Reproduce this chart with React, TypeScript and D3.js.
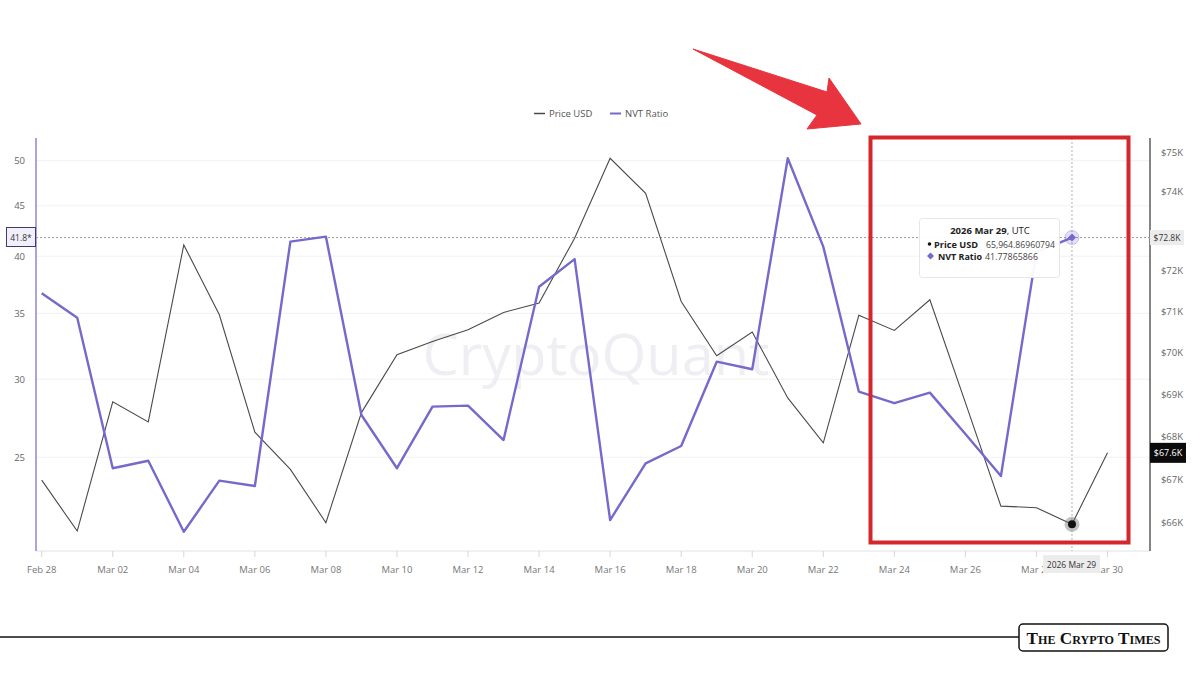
import React from "react";
import * as d3 from "d3";

const dates: string[] = [
  "2026-02-28", "2026-03-01", "2026-03-02", "2026-03-03", "2026-03-04", "2026-03-05", "2026-03-06",
  "2026-03-07", "2026-03-08", "2026-03-09", "2026-03-10", "2026-03-11", "2026-03-12", "2026-03-13",
  "2026-03-14", "2026-03-15", "2026-03-16", "2026-03-17", "2026-03-18", "2026-03-19", "2026-03-20",
  "2026-03-21", "2026-03-22", "2026-03-23", "2026-03-24", "2026-03-25", "2026-03-26", "2026-03-27",
  "2026-03-28", "2026-03-29", "2026-03-30",
];

const priceUsd: number[] = [
  66977, 65809, 68813, 68339, 72649, 70916, 68095, 67225, 66000, 68559, 69945, 70266, 70550, 70973,
  71204, 72818, 74855, 73957, 71243, 69920, 70495, 68908, 67846, 70904, 70534, 71284, 68796, 66379,
  66342, 65964.86960794, 67612,
];

const nvtRatio: number[] = [
  36.68, 34.64, 24.37, 24.8, 21.01, 23.67, 23.38, 41.38, 41.87, 27.6, 24.37, 28.14, 28.21, 26.03,
  37.24, 39.73, 21.59, 24.65, 25.67, 31.26, 30.71, 50.29, 40.9, 29.15, 28.37, 29.08, 26.4, 23.93,
  40.39, 41.77865866,
];

const nvtTicks: number[] = [25, 30, 35, 40, 45, 50];
const priceTicks: number[] = [66000, 67000, 68000, 69000, 70000, 71000, 72000, 73000, 74000, 75000];
const xTickDates: string[] = [
  "2026-02-28", "2026-03-02", "2026-03-04", "2026-03-06", "2026-03-08", "2026-03-10", "2026-03-12",
  "2026-03-14", "2026-03-16", "2026-03-18", "2026-03-20", "2026-03-22", "2026-03-24", "2026-03-26",
  "2026-03-28", "2026-03-30",
];
const hoverDate = "2026-03-29";
const lastPriceLabel = "$67.6K";
const legendItems: string[] = ["Price USD", "NVT Ratio"];

const FONT = "'Open Sans', 'Noto Sans', sans-serif";
const PURPLE = "#7569cc";
const DARK = "#4a4a4a";

export default function App() {
  const W = 1200;
  const H = 675;
  const top = 138;
  const bottom = 551;
  const leftAxisX = 36;
  const rightAxisX = 1150;

  const parse = (s: string) => new Date(s + "T00:00:00Z");
  const x = d3.scaleUtc().domain([parse("2026-02-28"), parse("2026-03-30")]).range([41.7, 1107.5]);
  const yN = d3.scaleLog().domain([20.13, 52.48]).range([550, 140]);
  const yP = d3.scaleLog().domain([65380, 75330]).range([550, 140]);

  const priceLine = d3
    .line<number>()
    .x((_, i) => x(parse(dates[i])))
    .y((d) => yP(d));
  const nvtLine = d3
    .line<number>()
    .x((_, i) => x(parse(dates[i])))
    .y((d) => yN(d));

  const fmtX = d3.utcFormat("%b %d");
  const hx = x(parse(hoverDate));
  const hi = dates.indexOf(hoverDate);
  const hNvt = nvtRatio[hi];
  const hPrice = priceUsd[hi];
  const hy = yN(hNvt);
  const hPy = yP(hPrice);
  const crossPriceLabel = "$" + (yP.invert(hy) / 1000).toFixed(1) + "K";
  const lastY = yP(priceUsd[priceUsd.length - 1]);

  return (
    <svg
      width={W}
      height={H}
      viewBox={`0 0 ${W} ${H}`}
      style={{ position: "absolute", left: 0, top: 0, background: "#fff" }}
    >
      <rect x={0} y={0} width={W} height={H} fill="#fff" />

      {/* red arrow */}
      <polygon
        points="693,49 827,92 829,78 861,124 807,129 817,115"
        fill="#e8343e"
        stroke="#e8343e"
        strokeWidth={1}
        strokeLinejoin="round"
      />

      {/* legend */}
      <g fontFamily={FONT} fontSize={9.5} fill="#555">
        <line x1={534} x2={545} y1={113.5} y2={113.5} stroke={DARK} strokeWidth={1.5} />
        <text x={549} y={117}>{legendItems[0]}</text>
        <line x1={610} x2={621} y1={113.5} y2={113.5} stroke={PURPLE} strokeWidth={2} />
        <text x={625} y={117}>{legendItems[1]}</text>
      </g>

      {/* gridlines */}
      {nvtTicks.map((t) => (
        <line key={"g" + t} x1={leftAxisX} x2={rightAxisX} y1={yN(t)} y2={yN(t)} stroke="#f1f1f1" strokeWidth={1} />
      ))}

      {/* watermark */}
      <text
        x={596}
        y={375}
        textAnchor="middle"
        fontFamily={FONT}
        fontSize={56}
        fill="#efeff3"
        textLength={347}
        lengthAdjust="spacingAndGlyphs"
      >
        CryptoQuant
      </text>

      {/* x axis */}
      <line x1={leftAxisX} x2={rightAxisX} y1={bottom} y2={bottom} stroke="#e2e2e2" strokeWidth={1} />
      {xTickDates.map((s) => {
        const px = x(parse(s));
        return (
          <g key={s}>
            <line x1={px} x2={px} y1={bottom} y2={bottom + 6} stroke="#d6d6d6" strokeWidth={1} />
            <text x={px} y={573} textAnchor="middle" fontFamily={FONT} fontSize={9.5} fill="#777">
              {fmtX(parse(s))}
            </text>
          </g>
        );
      })}

      {/* left axis */}
      <line x1={leftAxisX} x2={leftAxisX} y1={top} y2={bottom} stroke="#a9a3de" strokeWidth={2} />
      {nvtTicks.map((t) => (
        <text key={"l" + t} x={25} y={yN(t) + 3.5} textAnchor="end" fontFamily={FONT} fontSize={9.5} fill="#666">
          {t}
        </text>
      ))}

      {/* right axis */}
      <line x1={rightAxisX} x2={rightAxisX} y1={top} y2={bottom} stroke="#333" strokeWidth={1.2} />
      {priceTicks
        .filter((t) => Math.abs(yP(t) - hy) > 10)
        .map((t) => (
          <text key={"r" + t} x={1172} y={yP(t) + 3.5} textAnchor="middle" fontFamily={FONT} fontSize={9.5} fill="#666">
            {"$" + t / 1000 + "K"}
          </text>
        ))}

      {/* crosshair */}
      <line x1={leftAxisX} x2={rightAxisX} y1={hy} y2={hy} stroke="#9a9a9a" strokeWidth={1} strokeDasharray="2,2" />
      <line x1={hx} x2={hx} y1={top} y2={bottom} stroke="#b0b0b0" strokeWidth={1} strokeDasharray="2,2" />

      {/* series */}
      <path d={priceLine(priceUsd) || ""} fill="none" stroke={DARK} strokeWidth={1.1} />
      <path d={nvtLine(nvtRatio) || ""} fill="none" stroke={PURPLE} strokeWidth={2.4} strokeLinejoin="round" />

      {/* hover markers */}
      <circle cx={hx} cy={hy} r={7} fill={PURPLE} fillOpacity={0.2} stroke={PURPLE} strokeOpacity={0.35} />
      <path
        d={`M${hx},${hy - 4} L${hx + 4},${hy} L${hx},${hy + 4} L${hx - 4},${hy} Z`}
        fill={PURPLE}
      />
      <circle cx={hx} cy={hPy} r={7.5} fill="#777" fillOpacity={0.45} />
      <circle cx={hx} cy={hPy} r={4} fill="#111" />

      {/* tooltip */}
      <rect x={919.5} y={218.5} width={140} height={59} rx={3} fill="#fff" fillOpacity={0.95} stroke="#e6e6e6" />
      <g fontFamily={FONT} fontSize={9.5} fill="#222">
        <text x={990} y={234} textAnchor="middle">
          <tspan fontWeight="bold">2026 Mar 29</tspan>, UTC
        </text>
        <circle cx={929.5} cy={244} r={1.8} fill="#111" />
        <text x={934} y={247.5} fontWeight="bold" textLength={44} lengthAdjust="spacingAndGlyphs">Price USD</text>
        <text x={986} y={247.5} fill="#444" textLength={69} lengthAdjust="spacingAndGlyphs">
          {d3.format(",.8f")(hPrice)}
        </text>
        <path d="M930.5,252.5 L934,256 L930.5,259.5 L927,256 Z" fill={PURPLE} />
        <text x={938} y={260} fontWeight="bold" textLength={44} lengthAdjust="spacingAndGlyphs">NVT Ratio</text>
        <text x={985} y={260} fill="#444" textLength={53} lengthAdjust="spacingAndGlyphs">{hNvt.toFixed(8)}</text>
      </g>

      {/* left crosshair label */}
      <rect x={6.5} y={227.5} width={29} height={19} fill="#f0effa" stroke="#3e3a72" strokeWidth={1} />
      <text x={21} y={240.5} textAnchor="middle" fontFamily={FONT} fontSize={8.5} fill="#333">
        {hNvt.toFixed(1) + "*"}
      </text>

      {/* right crosshair label */}
      <rect x={1150} y={230} width={34} height={15} fill="#ececec" />
      <text x={1167} y={241} textAnchor="middle" fontFamily={FONT} fontSize={8.5} fill="#333">
        {crossPriceLabel}
      </text>

      {/* last price label */}
      <rect x={1150} y={lastY - 10} width={36} height={20} fill="#0b0b0b" />
      <text x={1168} y={lastY + 3.5} textAnchor="middle" fontFamily={FONT} fontSize={9} fill="#fff">
        {lastPriceLabel}
      </text>

      {/* bottom crosshair label */}
      <rect x={1043} y={555} width={57} height={18} fill="#ececec" />
      <text x={1071.5} y={567.5} textAnchor="middle" fontFamily={FONT} fontSize={8.5} fill="#333">
        {"2026 " + fmtX(parse(hoverDate))}
      </text>

      {/* red highlight box */}
      <rect x={870.5} y={137.5} width={258} height={405} fill="none" stroke="#d5262b" strokeWidth={4} />

      {/* footer */}
      <line x1={0} x2={1019} y1={637} y2={637} stroke="#111" strokeWidth={1.5} />
      <rect x={1019} y={624} width={149} height={27} rx={4} fill="#fff" stroke="#111" strokeWidth={1.5} />
      <text
        x={1093.5}
        y={644}
        textAnchor="middle"
        fontFamily="'Liberation Serif', 'DejaVu Serif', serif"
        fontWeight="bold"
        fontSize={17}
        fill="#111"
        style={{ fontVariant: "small-caps" }}
        textLength={134}
        lengthAdjust="spacingAndGlyphs"
      >
        The Crypto Times
      </text>
    </svg>
  );
}
